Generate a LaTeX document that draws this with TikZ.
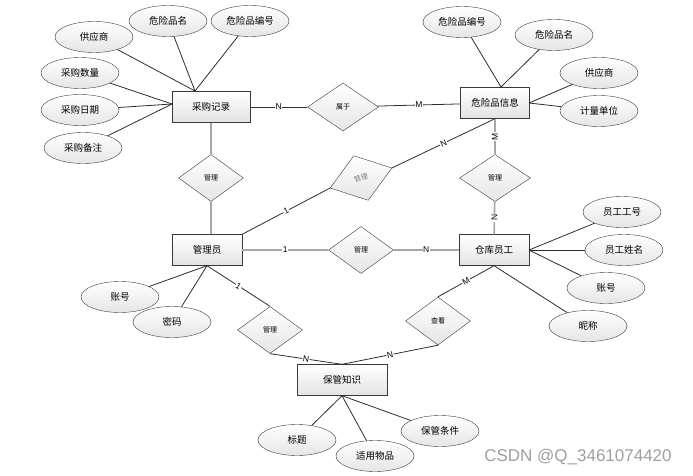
\documentclass[tikz,border=0pt]{standalone}
\usepackage{fontspec}
\setmainfont{Noto Sans CJK SC}
\newfontfamily\latinfont{Liberation Sans}
\usetikzlibrary{calc, shapes.geometric}
\tikzstyle{entity}  = [rectangle, minimum width=70pt, minimum height=31pt, inner sep=0pt, draw=gray!45!black, top color=white, bottom color=gray!22, font=\fontsize{9.5}{11}\selectfont]
\tikzstyle{attr}    = [ellipse, minimum width=78pt, minimum height=31pt, inner sep=0pt, draw=gray!45!black, top color=white, bottom color=gray!20, font=\fontsize{9.5}{11}\selectfont]
\tikzstyle{rel}     = [diamond, minimum width=65pt, minimum height=47pt, inner sep=0pt, draw=gray!45!black, top color=white, bottom color=gray!20, font=\fontsize{7}{8}\selectfont]
\tikzstyle{link}    = [draw=gray!35!black, line width=0.8pt]
\tikzstyle{biglink} = [draw=gray!70, line width=1.7pt]
\tikzstyle{lab}     = [fill=white, inner sep=0.6pt, font=\latinfont\fontsize{8.5}{9}\selectfont]

\begin{document}
\begin{tikzpicture}[x=1pt, y=-1pt]
      \useasboundingbox (0,0) rectangle (693,476);

      % entities
      \node (rec) [entity, minimum width=78pt] at (211,107) {采购记录};
      \node (haz) [entity, minimum width=69pt] at (495,103) {危险品信息};
      \node (adm) [entity] at (207,250) {管理员};
      \node (emp) [entity] at (494,250) {仓库员工};
      \node (kno) [entity, minimum width=90pt] at (342,380) {保管知识};

      % relationships
      \node (sy)  [rel, minimum width=71pt, minimum height=48pt] at (343,107) {属于};
      \node (mg1) [rel] at (211,178) {管理};
      \node (mg2) [rel, rotate=18, text=gray] at (361,178) {管理};
      \node (mg3) [rel, minimum width=71pt] at (495,178) {管理};
      \node (mg4) [rel] at (361,250) {管理};
      \node (mg5) [rel] at (270,330) {管理};
      \node (ck)  [rel, minimum height=48pt] at (438,321) {查看};

      % attributes
      \node (ra1) [attr] at (94,37)   {供应商};
      \node (ra2) [attr] at (168,21)  {危险品名};
      \node (ra3) [attr] at (250,21)  {危险品编号};
      \node (ra4) [attr] at (80,73)   {采购数量};
      \node (ra5) [attr] at (80,110)  {采购日期};
      \node (ra6) [attr] at (83,148)  {采购备注};

      \node (ha1) [attr] at (462,22)  {危险品编号};
      \node (ha2) [attr] at (554,35)  {危险品名};
      \node (ha3) [attr] at (599,73)  {供应商};
      \node (ha4) [attr] at (599,111) {计量单位};

      \node (ea1) [attr] at (622,212) {员工工号};
      \node (ea2) [attr] at (624,250) {员工姓名};
      \node (ea3) [attr] at (606,288) {账号};
      \node (ea4) [attr] at (588,326) {昵称};

      \node (aa1) [attr] at (120,297) {账号};
      \node (aa2) [attr] at (172,322) {密码};

      \node (ka1) [attr] at (297,440) {标题};
      \node (ka2) [attr] at (375,456) {适用物品};
      \node (ka3) [attr] at (440,431) {保管条件};

      \coordinate (recT) at (195,91);
      \coordinate (recL) at (172,104);
      \coordinate (hazT) at (501,87);
      \coordinate (hazR) at (529,103);
      \coordinate (empR) at (529,250);

      \foreach \a in {ra1,ra2,ra3} \draw [link] (\a) -- (recT);
      \foreach \a in {ra4,ra5,ra6} \draw [link] (\a) -- (recL);
      \foreach \a in {ha1,ha2} \draw [link] (\a) -- (hazT);
      \foreach \a in {ha3,ha4} \draw [link] (\a) -- (hazR);
      \foreach \a in {ea1,ea2,ea3} \draw [link] (\a) -- (empR);
      \draw [link] (ea4) -- (emp.south);
      \foreach \a in {aa1,aa2} \draw [link] (\a) -- (adm.south);
      \foreach \a in {ka1,ka2,ka3} \draw [link] (\a) -- (kno.south);

      % relationship lines
      \draw [link] (rec) -- node[lab] {N} (sy);
      \draw [link] (sy) -- node[lab] {M} (haz);
      \draw [biglink] (rec.south -| mg1) -- (mg1.north);
      \draw [biglink] (mg1.south) -- (mg1.south |- adm.north);

      \draw [link] (adm.north east) -- node[lab, sloped] {1} (mg2.west);
      \draw [link] (mg2.east) -- node[lab, sloped] {N} (haz.south);

      \draw [biglink] (haz) -- node[lab, rotate=90] {M} (mg3);
      \draw [biglink] (mg3) -- node[lab, rotate=90] {N} (emp);

      \draw [biglink] (adm) -- node[lab] {1} (mg4);
      \draw [biglink] (mg4) -- node[lab] {N} (emp);

      \draw [link] (adm.south) -- node[lab, sloped] {1} (mg5.north);
      \draw [link] (mg5.south) -- node[lab, sloped] {N} (kno.north);
      \draw [link] (ck.south) -- node[lab, sloped] {N} (kno.north);
      \draw [link] (ck.north) -- node[lab, sloped] {M} (emp.south);

      \node (wm) [text=gray!75, font=\latinfont\fontsize{17}{19}\selectfont] at (578,457) {CSDN @Q\_3461074420};

    \end{tikzpicture}
\end{document}
